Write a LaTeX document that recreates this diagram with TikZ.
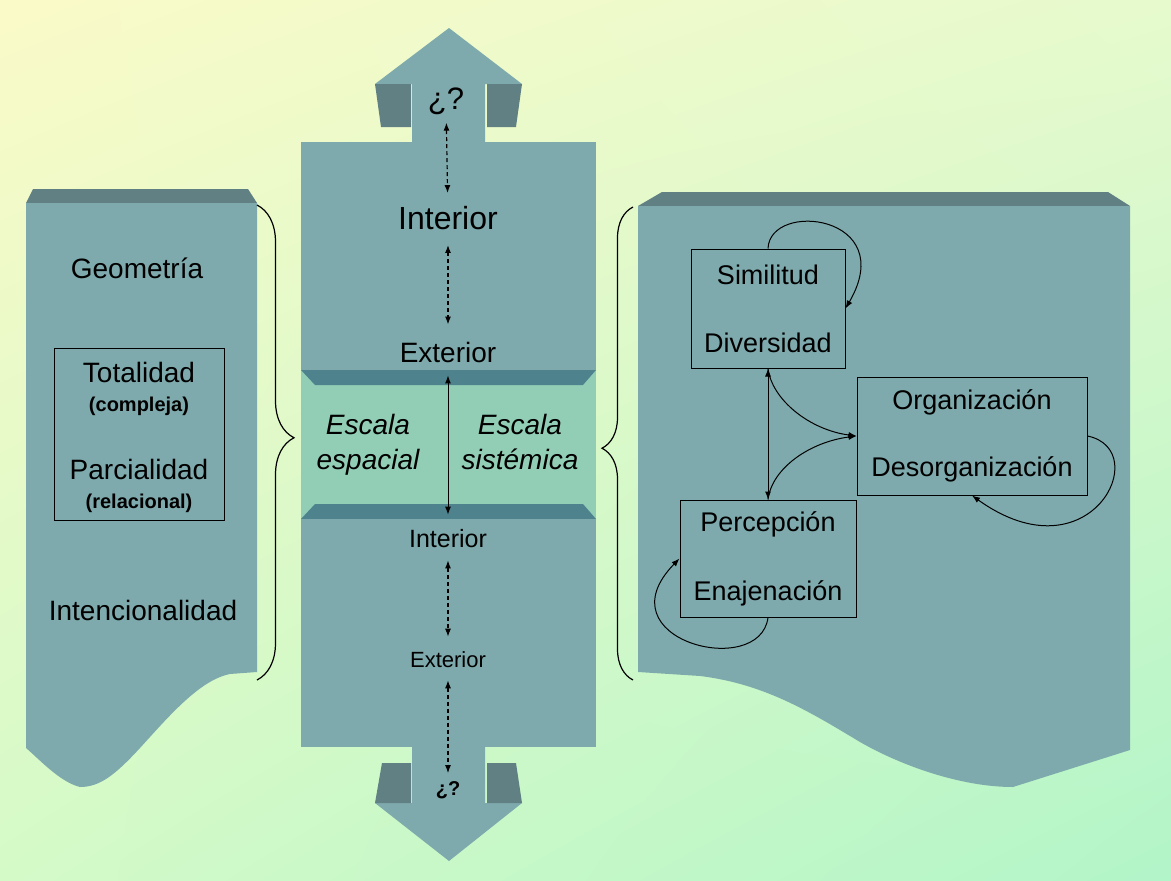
\documentclass[tikz,border=0pt]{standalone}
\usepackage{fontspec}
\setmainfont{Liberation Sans}
\usetikzlibrary{arrows.meta,decorations.pathreplacing,shadings}

\definecolor{bgtl}{RGB}{250,250,200}
\definecolor{bgtr}{RGB}{230,250,205}
\definecolor{bgbl}{RGB}{212,250,200}
\definecolor{bgbr}{RGB}{178,245,200}
\definecolor{panel}{RGB}{126,170,173}
\definecolor{bevel}{RGB}{96,128,131}
\definecolor{band}{RGB}{146,206,182}
\definecolor{bandedge}{RGB}{78,130,140}

\begin{document}
\begin{tikzpicture}[x=1pt,y=-1pt,>={Latex[length=8pt,width=6pt]},
  big/.style={inner sep=0pt,font=\fontsize{28}{32}\selectfont},
  sml/.style={inner sep=0pt,font=\bfseries\fontsize{20}{24}\selectfont},
  esc/.style={inner sep=0pt,align=center,anchor=base,font=\itshape\fontsize{28}{35}\selectfont},
  bx/.style={draw,line width=1pt,align=center,font=\fontsize{27}{31}\selectfont},
  dsh/.style={<->,line width=1.2pt,dash pattern=on 4pt off 3pt,shorten <=10pt,shorten >=14pt},
  lnk/.style={->,line width=1pt}]
  \useasboundingbox (0,0) rectangle (1171,881);
  \shade[upper left=bgtl,upper right=bgtr,lower left=bgbl,lower right=bgbr] (0,0) rectangle (1171,881);

  % left panel
  \fill[bevel] (33,189) -- (248,189) -- (257,203) -- (26,203) -- cycle;
  \fill[panel] (26,203) -- (257,203) -- (257,672) -- (230,674)
    .. controls (200,680) and (170,715) .. (140,748)
    .. controls (115,775) and (100,787) .. (80,787)
    .. controls (60,782) and (40,760) .. (26,748) -- cycle;
  \node[big] (geo) at (137,268) {Geometría};
  \node[draw,line width=1pt,minimum width=170pt,minimum height=172pt] (tp) at (139,434) {};
  \node[big] (tot) at (139,372) {Totalidad};
  \node[sml] (com) at (139,406) {(compleja)};
  \node[big] (par) at (139,469) {Parcialidad};
  \node[sml] (rel) at (139,503) {(relacional)};
  \node[big] (int) at (143,610) {Intencionalidad};
  \draw[line width=1.2pt,decorate,decoration={brace,amplitude=37pt,aspect=0.49}] (257,205) -- (257,680);

  % middle column
  \fill[panel] (412,142) -- (412,84) -- (375,84) -- (449,28) -- (522,84) -- (485,84) -- (485,142) -- cycle;
  \fill[bevel] (375,84) -- (411,84) -- (411,127) -- (381,127) -- cycle;
  \fill[bevel] (487,84) -- (522,84) -- (516,127) -- (487,127) -- cycle;
  \fill[panel] (301,142) rectangle (596,370);
  \fill[band] (301,370) rectangle (596,519);
  \fill[bandedge] (301,370) -- (596,370) -- (583,385) -- (315,385) -- cycle;
  \fill[bandedge] (315,504) -- (583,504) -- (596,519) -- (301,519) -- cycle;
  \fill[panel] (301,519) rectangle (596,747);
  \fill[panel] (412,747) -- (485,747) -- (485,803) -- (522,803) -- (449,861) -- (375,803) -- (412,803) -- cycle;
  \fill[bevel] (382,763) -- (411,763) -- (411,803) -- (375,803) -- cycle;
  \fill[bevel] (487,763) -- (516,763) -- (522,803) -- (487,803) -- cycle;

  \node[inner sep=0pt,font=\fontsize{31}{35}\selectfont] (q1) at (446,101) {¿?};
  \node[inner sep=0pt,font=\fontsize{32}{36}\selectfont] (in1) at (448,218) {Interior};
  \node[big] (ex1) at (448,352) {Exterior};
  \node[esc] (esp) at (368,469) {Escala\\espacial};
  \node[esc] (sis) at (520,469) {Escala\\sistémica};
  \node[inner sep=0pt,font=\fontsize{25}{29}\selectfont] (in2) at (448,539) {Interior};
  \node[inner sep=0pt,font=\fontsize{22}{26}\selectfont] (ex2) at (448,660) {Exterior};
  \node[inner sep=0pt,font=\bfseries\fontsize{20}{24}\selectfont] (q2) at (448,790) {¿?};
  \draw[dsh,shorten <=8pt,shorten >=13pt] (q1) -- (in1);
  \draw[dsh,shorten <=15pt,shorten >=17pt] (in1) -- (ex1);
  \draw[<->,line width=1pt,shorten <=13pt,shorten >=15pt] (ex1) -- (in2);
  \draw[dsh,shorten <=12pt,shorten >=15pt] (in2) -- (ex2);
  \draw[dsh,shorten <=12pt,shorten >=8pt] (ex2) -- (q2);

  % right panel
  \fill[bevel] (662,192) -- (1108,192) -- (1130,206) -- (638,206) -- cycle;
  \fill[panel] (638,206) -- (1130,206) -- (1130,750) -- (1013,787)
    .. controls (960,787) and (900,765) .. (860,742)
    .. controls (810,712) and (765,684) .. (700,676) -- (638,672) -- cycle;
  \draw[line width=1.2pt,decorate,decoration={brace,amplitude=31pt,aspect=0.49}] (633,680) -- (633,207);
  \node[bx,minimum width=154pt,minimum height=119pt] (sim) at (768,308.5) {Similitud\\[37pt]Diversidad};
  \node[bx,minimum width=230pt,minimum height=118pt] (org) at (972,436) {Organización\\[36pt]Desorganización};
  \node[bx,minimum width=176pt,minimum height=117pt] (per) at (768,558.5) {Percepción\\[38pt]Enajenación};
  \draw[lnk] (sim.north) .. controls (770,200) and (900,215) .. (sim.east);
  \draw[lnk,<->] (sim.south) -- (per.north);
  \draw[lnk] (sim.south) .. controls (772,400) and (810,430) .. (org.west);
  \draw[lnk] (per.north) .. controls (772,468) and (810,442) .. (org.west);
  \draw[lnk] (org.east) .. controls (1155,450) and (1090,580) .. (org.south);
  \draw[lnk] (per.south) .. controls (760,680) and (600,640) .. (per.west);
\end{tikzpicture}
\end{document}
